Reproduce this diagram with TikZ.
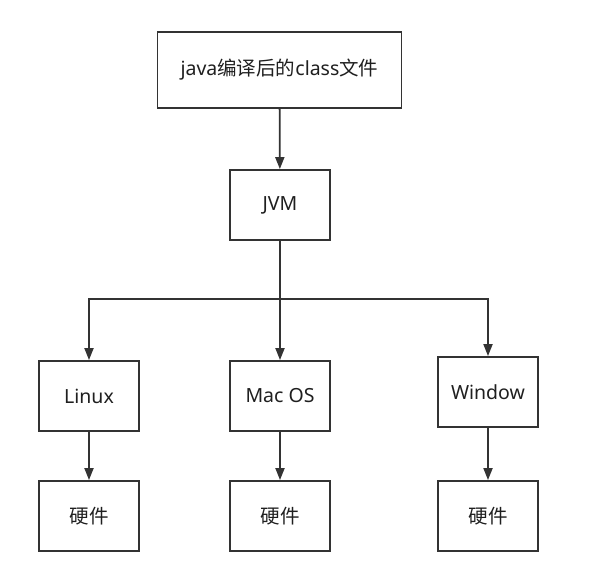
\documentclass[tikz,border=0pt]{standalone}
\usepackage{fontspec}
\setmainfont{Noto Sans}
\newfontfamily\cjk{Noto Sans CJK SC}
\usetikzlibrary{arrows.meta}
\definecolor{linegray}{HTML}{333333}
\tikzset{
    box/.style={draw=linegray,line width=1.8pt,minimum width=100pt,minimum height=70pt,inner sep=2pt,font=\fontsize{19.5}{23}\selectfont,text=black!88},
    link/.style={draw=linegray,line width=1.8pt},
    arrow/.style={link,-{Triangle[width=9pt,length=12pt]}}
}
\begin{document}
\begin{tikzpicture}[x=1pt,y=-1pt]
        \def\midX{280}
        \def\leftX{89}
        \def\rightX{488}
        \def\splitY{299}

        \useasboundingbox (0,0) rectangle (600,575);

        % Source and JVM
        \node[box,minimum width=244pt,minimum height=76pt] (src) at (279.5,70) {java{\cjk 编译后的}class{\cjk 文件}};
        \node[box] (jvm) at (\midX,205) {JVM};
        \draw[arrow] (src) -- (jvm);

        % Operating systems
        \node[box] (linux) at (\leftX,396) {Linux};
        \node[box] (mac) at (\midX,396) {Mac OS};
        \node[box] (win) at (\rightX,392) {Window};

        \coordinate (split) at (\midX,\splitY);
        \draw[link] (jvm) -- (split);
        \foreach \os in {linux,mac,win} {
                \draw[arrow] (split) -| (\os);
            }

        % Hardware
        \foreach \os\xPos in {linux/\leftX,mac/\midX,win/\rightX} {
                \node[box] (hw-\os) at (\xPos,516) {\cjk 硬件};
                \draw[arrow] (\os) -- (hw-\os);
            }
    \end{tikzpicture}
\end{document}
